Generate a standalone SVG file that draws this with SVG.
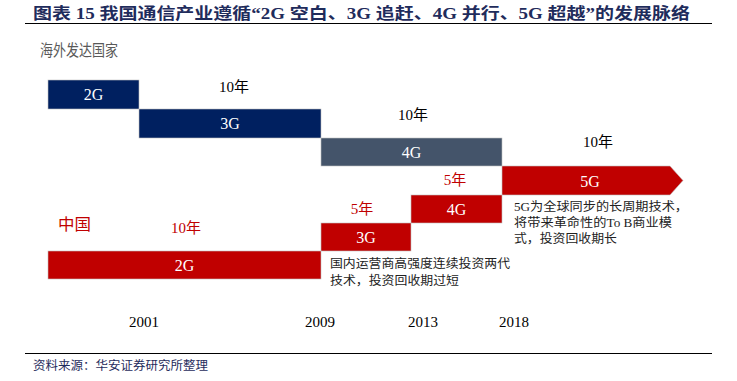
<svg xmlns="http://www.w3.org/2000/svg" width="737" height="381" viewBox="0 0 737 381">
<style>
text{font-family:"Liberation Serif","Noto Sans CJK SC",serif}
.title{font-size:16px;font-weight:bold;fill:#1F2C5C}
.head{font-size:16px;fill:#595959}
.lbl{font-size:16px;fill:#FFFFFF;text-anchor:middle}
.dur{font-size:15px;fill:#000000;text-anchor:middle}
.durr{font-size:15px;fill:#C00000;text-anchor:middle}
.note{font-size:12px;fill:#222222}
.yr{font-size:15px;fill:#000000;text-anchor:middle}
.src{font-size:12px;fill:#1F2C5C}
.navy{fill:#002060;stroke:#BFBFBF;stroke-width:0.6}
.gray{fill:#44546A;stroke:#BFBFBF;stroke-width:0.6}
.red{fill:#C00000;stroke:#BFBFBF;stroke-width:0.6}
.rule{stroke:#000000;stroke-width:1.2}
</style>
<text class="title" x="33" y="19" textLength="657" lengthAdjust="spacingAndGlyphs">图表 15 我国通信产业遵循“2G 空白、3G 追赶、4G 并行、5G 超越”的发展脉络</text>
<line class="rule" x1="25" y1="23.5" x2="712" y2="23.5"/>
<text class="head" x="40" y="56" textLength="78" lengthAdjust="spacingAndGlyphs">海外发达国家</text>
<g id="o2g"><rect class="navy" x="48" y="80" width="91" height="29"/><text class="lbl" x="93.5" y="100">2G</text></g>
<g id="o3g"><rect class="navy" x="139" y="109" width="182" height="29"/><text class="lbl" x="230" y="129">3G</text></g>
<g id="o4g"><rect class="gray" x="321" y="138" width="181" height="28"/><text class="lbl" x="411.5" y="158">4G</text></g>
<g id="c5g"><polygon class="red" points="502,166 670,166 683,180.5 670,195 502,195"/><text class="lbl" x="590" y="187">5G</text></g>
<g id="c4g"><rect class="red" x="411" y="195" width="91" height="28"/><text class="lbl" x="456.5" y="215">4G</text></g>
<g id="c3g"><rect class="red" x="321" y="223" width="90" height="28"/><text class="lbl" x="366" y="243">3G</text></g>
<g id="c2g"><rect class="red" x="48" y="251" width="273" height="28"/><text class="lbl" x="184.5" y="271">2G</text></g>
<g id="durations">
<text class="dur" x="234" y="92">10年</text>
<text class="dur" x="413" y="120">10年</text>
<text class="dur" x="598" y="147">10年</text>
<text class="durr" x="455" y="185">5年</text>
<text class="durr" x="362" y="214">5年</text>
<text class="durr" x="186" y="233">10年</text>
</g>
<text x="58" y="230" style="font-size:16px;fill:#C00000" textLength="33" lengthAdjust="spacingAndGlyphs">中国</text>
<g id="notes">
<text class="note" x="514" y="211" textLength="174" lengthAdjust="spacingAndGlyphs">5G为全球同步的长周期技术，</text>
<text class="note" x="514" y="227" textLength="158" lengthAdjust="spacingAndGlyphs">将带来革命性的To B商业模</text>
<text class="note" x="514" y="243" textLength="103" lengthAdjust="spacingAndGlyphs">式，投资回收期长</text>
<text class="note" x="330" y="268" textLength="180" lengthAdjust="spacingAndGlyphs">国内运营商高强度连续投资两代</text>
<text class="note" x="330" y="285" textLength="129" lengthAdjust="spacingAndGlyphs">技术，投资回收期过短</text>
</g>
<g id="years">
<text class="yr" x="144" y="327">2001</text>
<text class="yr" x="320" y="327">2009</text>
<text class="yr" x="423" y="327">2013</text>
<text class="yr" x="514" y="327">2018</text>
</g>
<line class="rule" x1="25" y1="353.5" x2="712" y2="353.5"/>
<text class="src" x="33" y="370" textLength="175" lengthAdjust="spacingAndGlyphs">资料来源：华安证券研究所整理</text>
</svg>
